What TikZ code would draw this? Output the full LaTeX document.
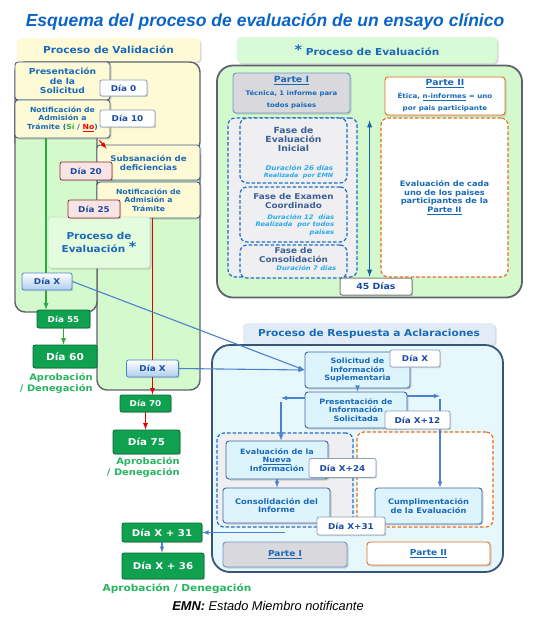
\documentclass[tikz,border=0pt]{standalone}
\usepackage{fontspec}
\setmainfont[FakeStretch=1.1]{DejaVu Sans}
\newfontfamily\titlefamily{Liberation Sans}
\usetikzlibrary{arrows}
\usetikzlibrary{shadows}
\usetikzlibrary{calc}
\newcommand*{\fsz}[2]{\fontsize{#1}{#2}\selectfont}

\definecolor{txtblue}{RGB}{25,105,185}
\definecolor{daytext}{RGB}{25,75,165}
\definecolor{titblue}{RGB}{10,100,200}
\definecolor{paleyellow}{RGB}{255,250,214}
\definecolor{palegreen}{RGB}{212,249,205}
\definecolor{procgreen}{RGB}{228,251,222}
\definecolor{headgreen}{RGB}{216,250,214}
\definecolor{headblue}{RGB}{226,236,246}
\definecolor{palecyan}{RGB}{230,248,252}
\definecolor{cyanbox}{RGB}{222,244,252}
\definecolor{panelgray}{RGB}{95,97,110}
\definecolor{acledge}{RGB}{55,85,120}
\definecolor{boxedge}{RGB}{70,95,130}
\definecolor{dayedge}{RGB}{140,160,190}
\definecolor{dgreen}{RGB}{15,160,80}
\definecolor{agreen}{RGB}{40,180,95}
\definecolor{sigreen}{RGB}{40,170,60}
\definecolor{pinkfill}{RGB}{248,228,228}
\definecolor{pinkedge}{RGB}{135,45,50}
\definecolor{orangeedge}{RGB}{230,110,30}
\definecolor{dashblue}{RGB}{30,110,200}
\definecolor{lightblue}{RGB}{40,170,235}
\definecolor{fasetext}{RGB}{60,95,150}
\definecolor{arrowblue}{RGB}{75,130,205}
\definecolor{xblue}{RGB}{175,205,238}
\definecolor{graybox}{RGB}{216,216,221}
\definecolor{fasegray}{RGB}{239,239,241}
\definecolor{partedge}{RGB}{110,150,205}

\begin{document}
\begin{tikzpicture}[
		x=1pt,
		y=-1pt,
		>=latex,
		thick
	]
		\tikzstyle{panel}=[
			draw=panelgray,
			line width=1.4pt,
			rounded corners=10pt,
			inner sep=0pt
		]
		\tikzstyle{cabecera}=[
			rounded corners=4pt,
			inner sep=0pt,
			text=txtblue,
			font=\bfseries\fsz{9.6}{11},
			drop shadow={opacity=0.3,shadow xshift=1.5pt,shadow yshift=-1.5pt}
		]
		\tikzstyle{paso}=[
			draw=boxedge,
			line width=0.9pt,
			rounded corners=3pt,
			inner sep=0pt,
			align=center,
			text=txtblue,
			drop shadow={opacity=0.3,shadow xshift=1.5pt,shadow yshift=-1.5pt}
		]
		\tikzstyle{pasoacl}=[
			paso,
			fill=cyanbox,
			draw=arrowblue!80!black,
			font=\bfseries\fsz{7.3}{8.5}
		]
		\tikzstyle{dia}=[
			draw=dayedge,
			fill=white,
			line width=0.8pt,
			rounded corners=2pt,
			inner sep=0pt,
			text=daytext,
			font=\bfseries\fsz{8}{9},
			drop shadow={opacity=0.3,shadow xshift=1.2pt,shadow yshift=-1.2pt}
		]
		\tikzstyle{diarosa}=[dia, fill=pinkfill, draw=pinkedge]
		\tikzstyle{diax}=[dia, draw=arrowblue, top color=white, bottom color=xblue]
		\tikzstyle{diaverde}=[dia, fill=dgreen, draw=dgreen!65!black, text=white]
		\tikzstyle{fase}=[
			draw=dashblue,
			dash pattern=on 3.5pt off 2pt,
			line width=1.2pt,
			rounded corners=7pt,
			fill=fasegray,
			inner sep=0pt,
			align=center
		]
		\tikzstyle{fasenaranja}=[fase, draw=orangeedge, fill=white]
		\tikzstyle{fasetxt}=[text=fasetext, font=\bfseries\fsz{8}{9}, align=center, inner sep=0pt]
		\tikzstyle{duracion}=[text=lightblue, font=\bfseries\itshape\fsz{6.2}{7.4}, align=right, inner sep=0pt]
		\tikzstyle{aprob}=[text=agreen, font=\bfseries\fsz{9}{10.5}, align=right, inner sep=0pt]
		\tikzstyle{azul}=[draw=arrowblue, line width=1.1pt, ->]
		\tikzstyle{rojo}=[draw=red!90!black, line width=1.2pt, ->]

		\useasboundingbox (0,0) rectangle (535,630);

		\node[font=\titlefamily\bfseries\itshape\fsz{17.5}{20}, text=titblue] (titulo) at (265,22)
			{Esquema del proceso de evaluación de un ensayo clínico};

		% validacion
		\node[cabecera, fill=paleyellow, minimum width=183, minimum height=24] (valHead) at (108.5,50) {Proceso de Validación};
		\node[panel, fill=paleyellow, minimum width=185, minimum height=90] (valPanel) at (107.5,107) {};
		\node[panel, fill=palegreen, minimum width=103, minimum height=244] (evalR) at (148.5,268) {};
		\node[panel, fill=palegreen, minimum width=82, minimum height=212] (evalL) at (56,206) {};

		\node[paso, fill=paleyellow, minimum width=95, minimum height=38, font=\bfseries\fsz{8.3}{9.3}] (presSol) at (62.5,81)
			{Presentación\\de la\\Solicitud};
		\node[paso, fill=paleyellow, minimum width=95, minimum height=38, font=\bfseries\fsz{7}{8.6}] (notifA) at (62.5,119)
			{Notificación de\\Admisión a\\Trámite (\textcolor{sigreen}{Sí} / \textcolor{red}{\underline{No}})};
		\node[paso, fill=paleyellow, minimum width=103, minimum height=35, font=\bfseries\fsz{7.8}{9}] (subsan) at (148.5,162.5)
			{Subsanación de\\deficiencias};
		\node[paso, fill=paleyellow, minimum width=103, minimum height=36, font=\bfseries\fsz{7}{8.6}] (notifB) at (148.5,200)
			{Notificación de\\Admisión a\\Trámite};
		\node[paso, fill=procgreen, draw=procgreen!80!gray, minimum width=102, minimum height=51, font=\bfseries\fsz{9.5}{13}] (procEval) at (99,242.5)
			{Proceso de\\Evaluación \raisebox{1pt}{\fsz{13}{13}*}};

		\draw[rojo] ($(notifA.south east)+(-11,2)$) -- ($(subsan.north west)+(10,4)$);

		\node[diaverde, minimum width=53, minimum height=18] (dia55) at (63.5,319) {Día 55};
		\node[diaverde, minimum width=64, minimum height=23, font=\bfseries\fsz{9.6}{11}] (dia60) at (65,356.5) {Día 60};
		\node[aprob, anchor=east] (aprobA) at (93,383.5) {Aprobación\\/ Denegación};

		\coordinate (lineaV) at (46,138);
		\draw[draw=sigreen, line width=1.2pt, ->] (lineaV) -- (lineaV |- dia55.north);
		\draw[draw=sigreen, line width=1.2pt, ->] (dia55.south) -- (dia55.south |- dia60.north);

		\coordinate (lineaR) at (152.5,218);
		\node[diax, minimum width=52, minimum height=17] (diaXR) at (152.5,368.5) {Día X};
		\node[diaverde, minimum width=51, minimum height=17] (dia70) at (145.5,403.5) {Día 70};
		\node[diaverde, minimum width=67, minimum height=24, font=\bfseries\fsz{9.4}{11}] (dia75) at (146.5,442) {Día 75};
		\node[aprob, anchor=east] (aprobB) at (180,467.5) {Aprobación\\/ Denegación};
		\draw[draw=red!90!black, line width=1.2pt] (lineaR) -- (diaXR.north);
		\draw[rojo] (diaXR.south) -- (diaXR.south |- dia70.north);
		\draw[rojo] (dia70.south) -- (dia70.south |- dia75.north);

		\node[dia, minimum width=47, minimum height=16] (dia0) at (123.5,88) {Día 0};
		\node[dia, minimum width=55, minimum height=17] (dia10) at (127.5,118.5) {Día 10};
		\node[diarosa, minimum width=52, minimum height=18] (dia20) at (86,171) {Día 20};
		\node[diarosa, minimum width=52, minimum height=18] (dia25) at (94,209) {Día 25};
		\node[diax, minimum width=50, minimum height=17] (diaXL) at (47,281.5) {Día X};

		% evaluacion
		\node[cabecera, fill=headgreen, minimum width=260, minimum height=26] (evalHead) at (367,50)
			{\raisebox{1pt}{\fsz{13}{13}*} Proceso de Evaluación};
		\node[panel, fill=palegreen, rounded corners=16pt, line width=1.8pt, minimum width=305, minimum height=232] (evalPanel) at (369.5,181.5) {};
		\node[paso, fill=graybox, draw=partedge, minimum width=117, minimum height=40] (parteA) at (291.5,93)
			{\fsz{8.5}{10}\bfseries\underline{Parte I}\\[1pt]\fsz{6.3}{7.3}\bfseries Técnica, 1 informe para\\\fsz{6.3}{7.3}\bfseries todos paises};
		\node[paso, fill=white, draw=orangeedge, minimum width=120, minimum height=38] (parteB) at (445,96)
			{\fsz{8.5}{10}\bfseries\underline{Parte II}\\[1pt]\fsz{6.5}{7.5}\bfseries Ética, \underline{n-informes} = uno\\\fsz{6.5}{7.5}\bfseries por pais participante};

		\node[fase, minimum width=129, minimum height=159] (faseMarco) at (292.5,197.5) {};
		\node[fase, minimum width=107, minimum height=65] (fase1) at (293.5,150.5) {};
		\node[fase, minimum width=107, minimum height=55] (fase2) at (293.5,214.5) {};
		\node[fase, minimum width=107, minimum height=33] (fase3) at (293.5,261.5) {};
		\node[fasetxt, font=\bfseries\fsz{8.4}{9.2}] (f1t) at ($(fase1.north)+(0,22)$) {Fase de\\Evaluación\\Inicial};
		\node[duracion, anchor=east] (f1d) at ($(fase1.east)+(-14,21.5)$) {\fsz{6.5}{7.6}Duración 26 días\\\fsz{5.8}{7}Realizada~ por EMN};
		\node[fasetxt] (f2t) at ($(fase2.north)+(0,14.5)$) {Fase de Examen\\Coordinado};
		\node[duracion, anchor=east] (f2d) at ($(fase2.east)+(-13,10.5)$) {Duración 12~ días\\Realizada~ por todos\\paises};
		\node[fasetxt] (f3t) at ($(fase3.north)+(0,11)$) {Fase de\\Consolidación};
		\node[duracion, anchor=east] (f3d) at ($(fase3.east)+(-11,6.5)$) {Duración 7 días};

		\draw[<->, draw=dashblue!85!black, line width=1.4pt] ($(faseMarco.north east)+(12,3)$) -- ($(faseMarco.south east)+(12,-1)$);
		\node[dia, draw=gray, line width=1pt, minimum width=72, minimum height=17, font=\bfseries\fsz{8.5}{9}] (dias45) at (376,286.5) {45 Días};

		\node[fasenaranja, minimum width=127, minimum height=159, text=txtblue, font=\bfseries\fsz{7.5}{8.7}] (evalPaises) at (444.5,197.5)
			{Evaluación de cada\\uno de los paises\\participantes de la\\\underline{Parte II}};

		% aclaraciones
		\node[cabecera, fill=headblue, minimum width=252, minimum height=22] (aclHead) at (369,334) {Proceso de Respuesta a Aclaraciones};
		\node[panel, fill=palecyan, draw=acledge, line width=1.8pt, rounded corners=18pt, minimum width=291, minimum height=227] (aclPanel) at (357.5,458.5) {};

		\node[pasoacl, minimum width=105, minimum height=36] (solSup) at (357.5,370) {Solicitud de\\Información\\Suplementaria};
		\node[pasoacl, minimum width=102, minimum height=36] (presInf) at (356,410) {Presentación de\\Información\\Solicitada};
		\node[fase, minimum width=136, minimum height=94] (marcoI) at (285,480) {};
		\node[fasenaranja, minimum width=136, minimum height=95] (marcoII) at (425,479.5) {};
		\node[pasoacl, minimum width=102, minimum height=38] (evalNueva) at (277,460) {Evaluación de la\\\underline{Nueva}\\Información};
		\node[pasoacl, minimum width=107, minimum height=35, font=\bfseries\fsz{7.6}{8.8}] (consol) at (276.5,505.5) {Consolidación del\\Informe};
		\node[pasoacl, minimum width=107, minimum height=36, font=\bfseries\fsz{7.5}{8.8}] (cumpl) at (428.5,506) {Cumplimentación\\de la Evaluación};
		\node[paso, fill=graybox, draw=partedge, minimum width=124, minimum height=25, font=\bfseries\fsz{8.2}{9}] (parteA2) at (285,554.5) {\underline{Parte I}};
		\node[paso, fill=white, draw=orangeedge, minimum width=123, minimum height=23, font=\bfseries\fsz{8.2}{9}] (parteB2) at (428.5,553.5) {\underline{Parte II}};

		\coordinate (giroIzq) at (281,398);
		\coordinate (giroDer) at (440,396);
		\draw[azul] (solSup.south) -- (solSup.south |- presInf.north);
		\draw[azul] (presInf.west |- giroIzq) -- (giroIzq);
		\draw[azul] ($(giroIzq)+(0,4)$) -- (giroIzq |- evalNueva.north);
		\draw[azul] (presInf.east |- giroDer) -- (giroDer);
		\draw[azul] ($(giroDer)+(0,3)$) -- (giroDer |- cumpl.north);
		\draw[azul] (evalNueva.south) -- (evalNueva.south |- consol.north);

		% resultado final
		\node[diaverde, minimum width=80, minimum height=19, font=\bfseries\fsz{9.3}{11}] (dX31g) at (162,532.5) {Día X + 31};
		\node[diaverde, minimum width=82, minimum height=26, font=\bfseries\fsz{9.3}{11}] (dX36g) at (163,566) {Día X + 36};
		\node[aprob, font=\bfseries\fsz{9.6}{11}] (aprobC) at (177,589) {Aprobación / Denegación};
		\draw[azul, <-] (dX31g.east) -- (dX31g.east -| marcoI.center);
		\draw[azul] (dX31g.south) -- (dX31g.south |- dX36g.north);

		\node[dia, minimum width=50, minimum height=17] (diaX3) at (415,358.5) {Día X};
		\node[dia, minimum width=65, minimum height=18] (diaX12) at (417.5,420) {Día X+12};
		\node[dia, minimum width=67, minimum height=19] (diaX24) at (342.5,468) {Día X+24};
		\node[dia, minimum width=68, minimum height=18] (diaX31) at (351,526) {Día X+31};

		\draw[azul] (diaXL.east) -- (solSup.west);
		\draw[azul] (diaXR.east) -- (solSup.west);

		\node[font=\titlefamily\itshape\fsz{12.8}{14}] (emn) at (268,606) {\textbf{EMN:} Estado Miembro notificante};
\end{tikzpicture}
\end{document}
